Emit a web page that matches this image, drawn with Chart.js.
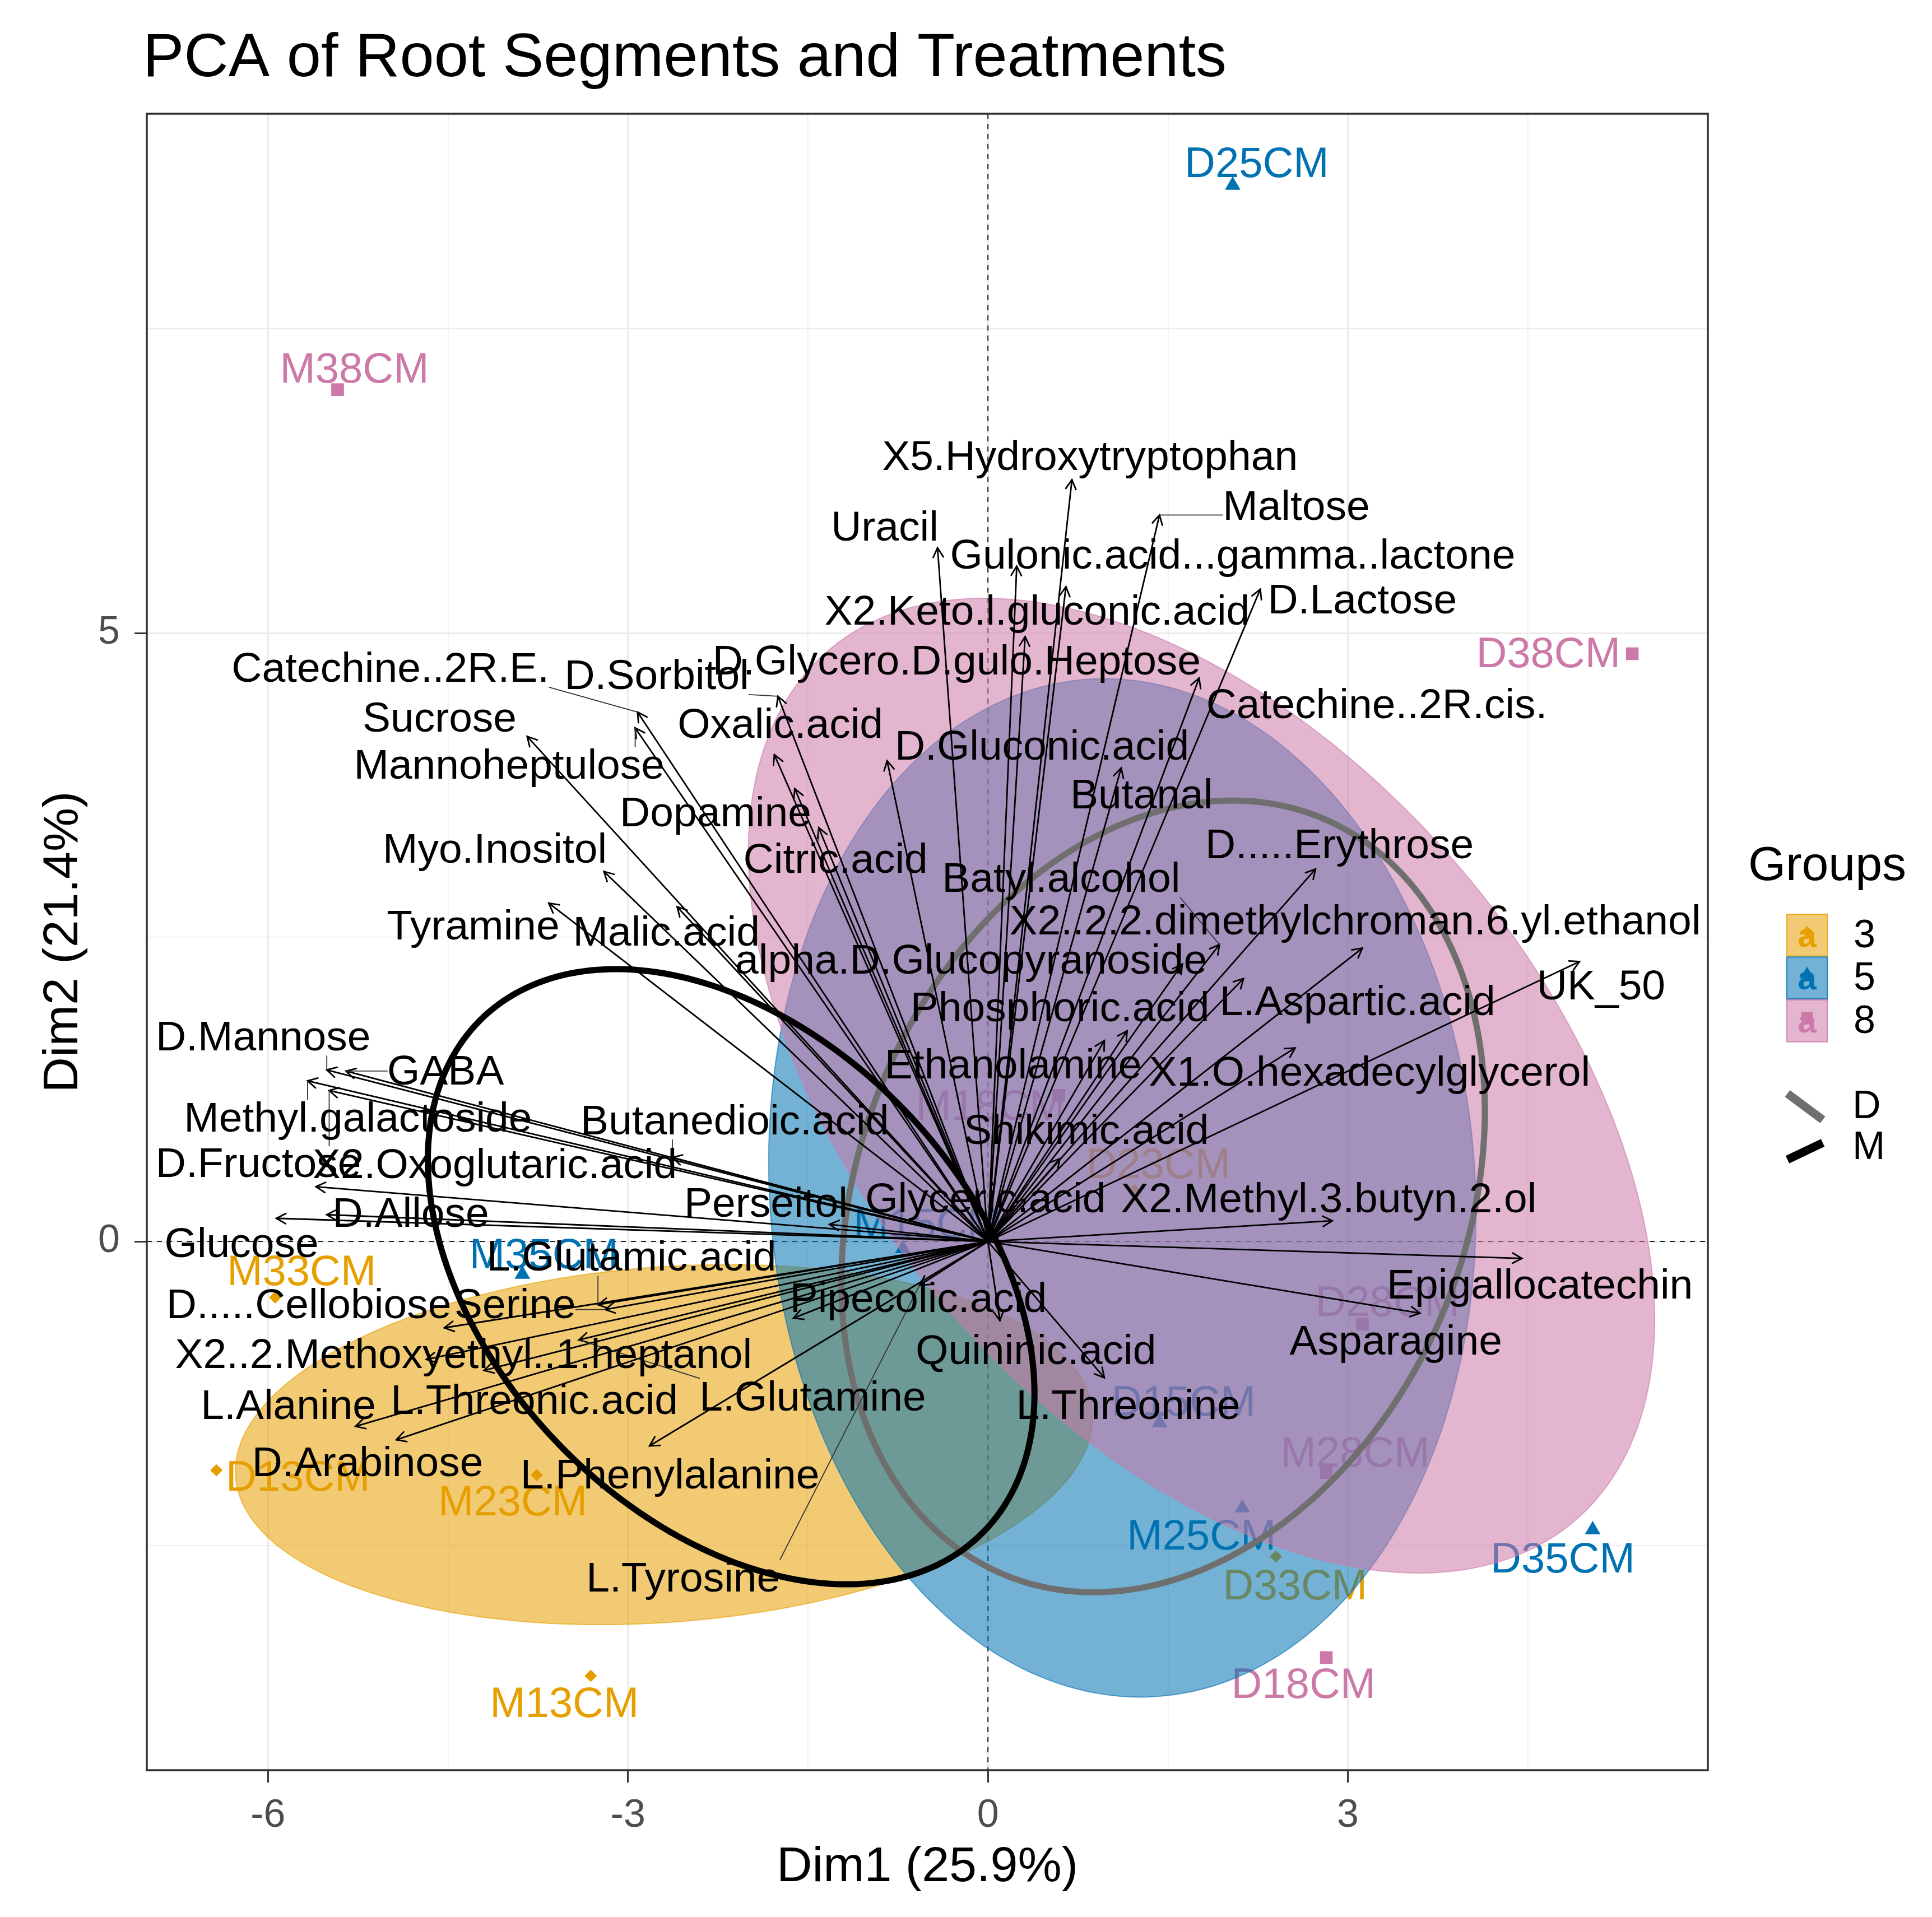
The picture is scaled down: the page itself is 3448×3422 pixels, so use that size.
<!DOCTYPE html>
<html><head><meta charset="utf-8">
<script src="https://cdn.jsdelivr.net/npm/chart.js@4.4.1/dist/chart.umd.min.js"></script>
<style>html,body{margin:0;padding:0;background:#fff;}canvas{display:block;}</style>
</head><body>
<canvas id="c" width="3448" height="3422"></canvas>
<script>
const FONT = '"Liberation Sans", Arial, Helvetica, sans-serif';

// ---------------- data ----------------
const titleText = 'PCA of Root Segments and Treatments';
const xTitle = 'Dim1 (25.9%)';
const yTitle = 'Dim2 (21.4%)';
const xTicks = [-6, -4.5, -3, -1.5, 0, 1.5, 3, 4.5];
const yTicks = [-2.5, 0, 2.5, 5, 7.5];

const groups = ['3', '5', '8'];
const segments = ['D', 'M'];

const sampleNames = ["M33CM","D13CM","M23CM","M13CM","D23CM","D33CM","D25CM","M35CM","M15CM","D15CM","M25CM","D35CM","M38CM","D38CM","M18CM","D28CM","M28CM","D18CM"];
const sampleGroup = ['3','3','3','3','3','3','5','5','5','5','5','5','8','8','8','8','8','8'];
const sampleX = [-5.94,-6.43,-3.76,-3.31,1.22,2.40, 2.04,-3.88,-0.71,1.43,2.12,5.04, -5.42,5.37,0.59,3.12,2.82,2.82];
const sampleY = [-0.46,-1.88,-1.92,-3.57,0.42,-2.59, 8.68,-0.27,-0.06,-1.49,-2.19,-2.37, 7.00,4.83,1.20,-0.68,-1.90,-3.42];
const sampleLabelX = [-5.72,-5.75,-3.96,-3.53,1.42,2.56, 2.24,-3.70,-0.50,1.63,1.78,4.79, -5.28,4.67,0.02,3.33,3.06,2.63];
const sampleLabelY = [-0.25,-1.94,-2.14,-3.80,0.63,-2.83, 8.86,-0.11,0.14,-1.32,-2.42,-2.61, 7.17,4.83,1.11,-0.50,-1.74,-3.64];

const varNames = ["X5.Hydroxytryptophan","Maltose","Uracil","Gulonic.acid...gamma..lactone","X2.Keto.l.gluconic.acid","D.Lactose","D.Glycero.D.gulo.Heptose","Catechine..2R.E.","D.Sorbitol","Catechine..2R.cis.","Sucrose","Oxalic.acid","Mannoheptulose","D.Gluconic.acid","Dopamine","Butanal","Myo.Inositol","Citric.acid","D.....Erythrose","Batyl.alcohol","Tyramine","Malic.acid","X2..2.2.dimethylchroman.6.yl.ethanol","alpha.D.Glucopyranoside","UK_50","Phosphoric.acid","L.Aspartic.acid","D.Mannose","GABA","Ethanolamine","X1.O.hexadecylglycerol","Methyl.galactoside","Butanedioic.acid","Shikimic.acid","D.Fructose","X2.Oxoglutaric.acid","D.Allose","Perseitol","Glyceric.acid","X2.Methyl.3.butyn.2.ol","Glucose","L.Glutamic.acid","Epigallocatechin","D.....Cellobiose","Serine","Pipecolic.acid","Asparagine","X2..2.Methoxyethyl..1.heptanol","Quininic.acid","L.Alanine","L.Threonic.acid","L.Glutamine","L.Threonine","D.Arabinose","L.Phenylalanine","L.Tyrosine"];
const varX = [0.70,1.43,-0.42,0.24,0.65,2.27,0.31,-2.92,-1.75,1.76,-3.84,-1.78,-2.94,-0.84,-1.61,1.11,-3.20,-1.41,2.73,1.93,-3.66,-2.59,3.12,1.62,4.93,1.16,2.13,-5.51,-5.35,0.97,2.56,-5.67,-2.63,0.60,-5.60,-5.49,-5.51,-1.32,0.31,2.87,-5.93,-3.25,4.45,-4.53,-3.19,-1.62,3.60,-4.68,0.10,-5.27,-4.20,-3.41,0.97,-4.93,-2.82,-0.57];
const varY = [6.26,5.97,5.70,5.55,5.38,5.36,4.97,4.35,4.48,4.63,4.15,4.00,4.22,3.95,3.72,3.89,3.04,3.40,3.06,2.44,2.78,2.75,2.41,2.28,2.30,1.73,2.16,1.41,1.40,1.65,1.59,1.32,0.69,0.68,0.45,1.24,0.22,0.14,0.35,0.17,0.19,-0.52,-0.14,-0.71,-0.56,-0.63,-0.59,-0.97,-0.65,-1.52,-1.06,-0.81,-1.12,-1.63,-1.68,-0.36];
const varLabelX = [0.85,2.57,-0.86,2.04,0.41,3.12,-0.26,-4.98,-2.76,3.24,-4.57,-1.73,-3.99,0.45,-2.27,1.28,-4.11,-1.27,2.93,0.61,-4.29,-2.68,3.06,-0.14,5.11,0.60,3.08,-6.04,-4.52,0.21,3.18,-5.25,-2.11,0.82,-6.08,-4.11,-4.81,-1.85,-0.02,2.84,-6.22,-2.97,4.60,-5.66,-3.94,-0.58,3.40,-4.37,0.40,-5.83,-3.78,-1.46,1.17,-5.17,-2.65,-2.54];
const varLabelY = [6.45,6.04,5.87,5.64,5.18,5.27,4.77,4.71,4.65,4.41,4.30,4.25,3.91,4.07,3.52,3.67,3.22,3.14,3.26,2.98,2.59,2.54,2.63,2.31,2.10,1.92,1.97,1.68,1.40,1.45,1.39,1.01,0.99,0.91,0.64,0.63,0.23,0.31,0.35,0.35,-0.02,-0.13,-0.36,-0.52,-0.52,-0.47,-0.82,-0.93,-0.90,-1.35,-1.31,-1.28,-1.35,-1.82,-1.92,-2.77];

// group confidence ellipses (data units): centre, semi-axes, rotation (deg)
const groupEllCX = [-2.70, 1.12, 1.78];
const groupEllCY = [-1.67, 0.44, 1.28];
const groupEllA  = [3.58, 2.94, 4.74];
const groupEllB  = [1.46, 4.19, 2.80];
const groupEllAng = [4.2, 4, 131.5];
// D / M ellipses
const segEllCX = [1.46, -2.14];
const segEllCY = [0.37, -0.29];
const segEllA  = [3.38, 2.97];
const segEllB  = [2.52, 1.99];
const segEllAng = [66, -45];

// ---------------- styles ----------------
const groupColors = ['#E69F00', '#0072B2', '#CC79A7'];
const groupShapes = ['rectRot', 'triangle', 'rect'];
const groupRadius = [11, 16, 16];
const segColors = ['#6f6f6f', '#000000'];
const FILL_ALPHA = 0.55;

function rgba(hex, a) {
  const n = parseInt(hex.slice(1), 16);
  return `rgba(${(n >> 16) & 255},${(n >> 8) & 255},${n & 255},${a})`;
}

function ellipsePath(ctx, xs, ys, cx, cy, a, b, angDeg) {
  const th = angDeg * Math.PI / 180, N = 240;
  ctx.beginPath();
  for (let k = 0; k <= N; k++) {
    const t = 2 * Math.PI * k / N;
    const dx = a * Math.cos(t), dy = b * Math.sin(t);
    const px = xs.getPixelForValue(cx + dx * Math.cos(th) - dy * Math.sin(th));
    const py = ys.getPixelForValue(cy + dx * Math.sin(th) + dy * Math.cos(th));
    if (k === 0) ctx.moveTo(px, py); else ctx.lineTo(px, py);
  }
  ctx.closePath();
}

function drawShape(ctx, shape, x, y, r) {
  ctx.beginPath();
  if (shape === 'rectRot') {
    ctx.moveTo(x - r, y); ctx.lineTo(x, y - r); ctx.lineTo(x + r, y); ctx.lineTo(x, y + r);
  } else if (shape === 'triangle') {
    ctx.moveTo(x, y - r); ctx.lineTo(x + r * 0.866, y + r * 0.5); ctx.lineTo(x - r * 0.866, y + r * 0.5);
  } else {
    const s = r * Math.SQRT1_2; ctx.rect(x - s, y - s, 2 * s, 2 * s);
  }
  ctx.closePath(); ctx.fill();
}

const biplot = {
  id: 'biplot',
  beforeDatasetsDraw(chart) {
    const { ctx, chartArea: a, scales: { x, y } } = chart;
    ctx.save();
    ctx.beginPath(); ctx.rect(a.left, a.top, a.right - a.left, a.bottom - a.top); ctx.clip();
    ctx.strokeStyle = '#222'; ctx.lineWidth = 2; ctx.setLineDash([9, 9]);
    const x0 = x.getPixelForValue(0), y0 = y.getPixelForValue(0);
    ctx.beginPath();
    ctx.moveTo(x0, a.top); ctx.lineTo(x0, a.bottom);
    ctx.moveTo(a.left, y0); ctx.lineTo(a.right, y0);
    ctx.stroke();
    ctx.restore();
  },
  afterDatasetsDraw(chart) {
    const { ctx, chartArea: a, scales: { x, y } } = chart;
    ctx.save();
    ctx.beginPath(); ctx.rect(a.left, a.top, a.right - a.left, a.bottom - a.top); ctx.clip();

    // sample labels
    ctx.font = `76px ${FONT}`; ctx.textAlign = 'center'; ctx.textBaseline = 'middle';
    sampleNames.forEach((n, i) => {
      const gi = groups.indexOf(sampleGroup[i]);
      ctx.fillStyle = groupColors[gi];
      ctx.fillText(n, x.getPixelForValue(sampleLabelX[i]), y.getPixelForValue(sampleLabelY[i]) + 3);
    });

    // group ellipses
    groups.forEach((g, gi) => {
      ellipsePath(ctx, x, y, groupEllCX[gi], groupEllCY[gi], groupEllA[gi], groupEllB[gi], groupEllAng[gi]);
      ctx.fillStyle = rgba(groupColors[gi], FILL_ALPHA); ctx.fill();
      ctx.strokeStyle = rgba(groupColors[gi], 0.6); ctx.lineWidth = 2; ctx.stroke();
    });

    // D / M ellipses
    segments.forEach((s, si) => {
      ellipsePath(ctx, x, y, segEllCX[si], segEllCY[si], segEllA[si], segEllB[si], segEllAng[si]);
      ctx.strokeStyle = segColors[si]; ctx.lineWidth = 11; ctx.stroke();
    });

    // arrows
    const ox = x.getPixelForValue(0), oy = y.getPixelForValue(0);
    ctx.strokeStyle = '#000'; ctx.lineWidth = 2.8; ctx.lineCap = 'round';
    varNames.forEach((n, i) => {
      const tx = x.getPixelForValue(varX[i]), ty = y.getPixelForValue(varY[i]);
      ctx.beginPath(); ctx.moveTo(ox, oy); ctx.lineTo(tx, ty); ctx.stroke();
      const ang = Math.atan2(ty - oy, tx - ox), L = 19, w = 0.5;
      ctx.beginPath();
      ctx.moveTo(tx - L * Math.cos(ang - w), ty - L * Math.sin(ang - w));
      ctx.lineTo(tx, ty);
      ctx.lineTo(tx - L * Math.cos(ang + w), ty - L * Math.sin(ang + w));
      ctx.stroke();
    });

    // variable labels (+ repel segments)
    const fs = 75;
    ctx.font = `${fs}px ${FONT}`; ctx.textAlign = 'center'; ctx.textBaseline = 'middle';
    varNames.forEach((n, i) => {
      const tx = x.getPixelForValue(varX[i]), ty = y.getPixelForValue(varY[i]);
      const lx = x.getPixelForValue(varLabelX[i]), ly = y.getPixelForValue(varLabelY[i]);
      const w = ctx.measureText(n).width;
      const cxp = Math.min(Math.max(tx, lx - w / 2), lx + w / 2);
      const cyp = Math.min(Math.max(ty, ly - fs * 0.45), ly + fs * 0.45);
      if (Math.hypot(cxp - tx, cyp - ty) > 22) {
        ctx.strokeStyle = '#333'; ctx.lineWidth = 1.8;
        ctx.beginPath(); ctx.moveTo(tx, ty); ctx.lineTo(cxp, cyp); ctx.stroke();
      }
    });
    ctx.fillStyle = '#000';
    varNames.forEach((n, i) => {
      ctx.fillText(n, x.getPixelForValue(varLabelX[i]), y.getPixelForValue(varLabelY[i]) + 3);
    });
    ctx.restore();
  },
  afterDraw(chart) {
    const { ctx, chartArea: a } = chart;
    ctx.save();
    // panel border
    ctx.strokeStyle = '#333'; ctx.lineWidth = 3.5;
    ctx.strokeRect(a.left, a.top, a.right - a.left, a.bottom - a.top);

    // title
    ctx.fillStyle = '#000'; ctx.textBaseline = 'alphabetic';
    ctx.font = `110px ${FONT}`; ctx.textAlign = 'left';
    ctx.fillText(titleText, 255, 136);

    // axis titles
    ctx.font = `88px ${FONT}`; ctx.textAlign = 'center';
    ctx.fillText(xTitle, (a.left + a.right) / 2, 3358);
    ctx.save();
    ctx.translate(138, (a.top + a.bottom) / 2);
    ctx.rotate(-Math.PI / 2);
    ctx.fillText(yTitle, 0, 0);
    ctx.restore();

    // legend
    ctx.font = `86px ${FONT}`; ctx.textAlign = 'center'; ctx.textBaseline = 'middle';
    ctx.fillText('Groups', 3261, 1547);
    const keyX = 3188, keyW = 74, keyH = 76.5, keyTop = 1631;
    groups.forEach((g, gi) => {
      const ky = keyTop + gi * keyH;
      ctx.fillStyle = rgba(groupColors[gi], FILL_ALPHA);
      ctx.fillRect(keyX, ky, keyW, keyH);
      ctx.strokeStyle = rgba(groupColors[gi], 0.7); ctx.lineWidth = 2;
      ctx.strokeRect(keyX + 1, ky + 1, keyW - 2, keyH - 2);
      ctx.fillStyle = groupColors[gi];
      drawShape(ctx, groupShapes[gi], keyX + keyW / 2, ky + keyH / 2 - 6, groupRadius[gi] * 0.9);
      ctx.font = `bold 60px ${FONT}`; ctx.textAlign = 'center'; ctx.textBaseline = 'middle';
      ctx.fillText('a', keyX + keyW / 2, ky + keyH / 2 + 4);
      ctx.fillStyle = '#000'; ctx.font = `70px ${FONT}`; ctx.textAlign = 'left';
      ctx.fillText(g, 3308, ky + keyH / 2 + 2);
    });
    // D / M keys
    ctx.lineCap = 'butt'; ctx.lineWidth = 15;
    ctx.strokeStyle = segColors[0];
    ctx.beginPath(); ctx.moveTo(3190, 1952); ctx.lineTo(3253, 1999); ctx.stroke();
    ctx.strokeStyle = segColors[1];
    ctx.beginPath(); ctx.moveTo(3190, 2070); ctx.lineTo(3253, 2040); ctx.stroke();
    ctx.fillStyle = '#000'; ctx.font = `70px ${FONT}`; ctx.textAlign = 'left'; ctx.textBaseline = 'middle';
    ctx.fillText(segments[0], 3306, 1977);
    ctx.fillText(segments[1], 3306, 2050);
    ctx.restore();
  }
};

const isMajorX = v => Math.abs(v % 3) < 1e-9;
const isMajorY = v => Math.abs(v % 5) < 1e-9;

const datasets = groups.map((g, gi) => ({
  label: g,
  data: sampleNames.map((n, i) => ({ x: sampleX[i], y: sampleY[i], g: sampleGroup[i] })).filter(p => p.g === g),
  pointStyle: groupShapes[gi],
  pointRadius: groupRadius[gi],
  backgroundColor: groupColors[gi],
  borderColor: groupColors[gi],
  borderWidth: 0,
  showLine: false
}));

new Chart(document.getElementById('c'), {
  type: 'scatter',
  data: { datasets },
  options: {
    responsive: false,
    devicePixelRatio: 1,
    animation: false,
    events: [],
    layout: { padding: { top: 203, right: 400, bottom: 0, left: 0 } },
    plugins: { legend: { display: false }, tooltip: { enabled: false }, title: { display: false } },
    scales: {
      x: {
        type: 'linear', min: -7.01, max: 6.0,
        afterBuildTicks: s => { s.ticks = xTicks.map(v => ({ value: v })); },
        afterFit: s => { s.height = 262; },
        border: { display: false },
        grid: {
          color: '#EBEBEB',
          lineWidth: c => (c.tick && isMajorX(c.tick.value)) ? 3 : 1.6,
          drawTicks: true, tickLength: 22, tickWidth: 3,
          tickColor: c => (c.tick && isMajorX(c.tick.value)) ? '#333333' : 'rgba(0,0,0,0)'
        },
        ticks: {
          autoSkip: false, maxRotation: 0, padding: 18,
          color: '#4D4D4D', font: { family: FONT, size: 70 },
          callback: v => isMajorX(v) ? String(v) : ''
        }
      },
      y: {
        type: 'linear', min: -4.346, max: 9.268,
        afterBuildTicks: s => { s.ticks = yTicks.map(v => ({ value: v })); },
        afterFit: s => { s.width = 262; },
        border: { display: false },
        grid: {
          color: '#EBEBEB',
          lineWidth: c => (c.tick && isMajorY(c.tick.value)) ? 3 : 1.6,
          drawTicks: true, tickLength: 22, tickWidth: 3,
          tickColor: c => (c.tick && isMajorY(c.tick.value)) ? '#333333' : 'rgba(0,0,0,0)'
        },
        ticks: {
          autoSkip: false, padding: 26,
          color: '#4D4D4D', font: { family: FONT, size: 70 },
          callback: v => isMajorY(v) ? String(v) : ''
        }
      }
    }
  },
  plugins: [biplot]
});
</script>
</body></html>
